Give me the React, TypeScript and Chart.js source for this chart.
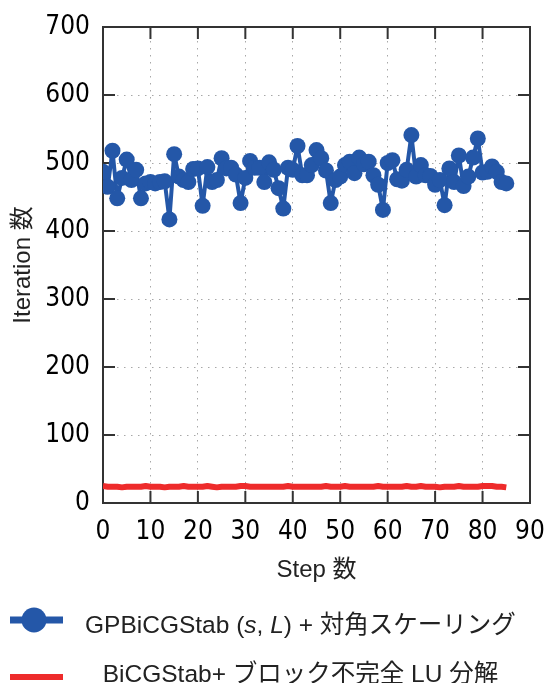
import React, { useEffect, useRef } from "react";
import { Chart, registerables } from "chart.js";

Chart.register(...registerables);

const steps = [
  0, 1, 2, 3, 4, 5, 6, 7, 8, 9, 10, 11, 12, 13, 14, 15, 16, 17, 18, 19, 20,
  21, 22, 23, 24, 25, 26, 27, 28, 29, 30, 31, 32, 33, 34, 35, 36, 37, 38, 39,
  40, 41, 42, 43, 44, 45, 46, 47, 48, 49, 50, 51, 52, 53, 54, 55, 56, 57, 58,
  59, 60, 61, 62, 63, 64, 65, 66, 67, 68, 69, 70, 71, 72, 73, 74, 75, 76, 77,
  78, 79, 80, 81, 82, 83, 84, 85,
];

const gpbicgstab = [
  487, 465, 518, 448, 478, 505, 475, 490, 448, 470, 472, 470, 472, 473, 417,
  513, 480, 475, 472, 491, 492, 437, 494, 472, 475, 507, 492, 493, 483, 441,
  478, 503, 493, 493, 472, 501, 490, 463, 433, 493, 490, 525, 482, 482, 497,
  519, 507, 489, 441, 475, 480, 497, 502, 485, 508, 498, 502, 482, 468, 431,
  500, 504, 476, 474, 490, 541, 480, 497, 482, 481, 468, 475, 438, 492, 472,
  511, 466, 480, 508, 536, 486, 487, 495, 487, 472, 470,
];

const bicgstabLU = [
  25, 24, 24, 24, 23, 24, 24, 24, 24, 25, 24, 24, 24, 23, 24, 24, 24, 25, 24,
  24, 24, 24, 25, 24, 23, 24, 24, 24, 24, 25, 25, 24, 24, 24, 24, 24, 24, 24,
  24, 25, 24, 24, 24, 24, 24, 24, 24, 25, 24, 24, 24, 25, 24, 24, 24, 24, 24,
  24, 25, 24, 24, 24, 24, 24, 25, 24, 24, 25, 24, 24, 24, 23, 24, 24, 24, 25,
  24, 24, 24, 24, 25, 25, 25, 24, 24, 23,
];

const xTitle = "Step 数";
const yTitle = "Iteration 数";
const legend1Parts: [string, boolean][] = [
  ["GPBiCGStab (", false],
  ["s", true],
  [", ", false],
  ["L", true],
  [") + 対角スケーリング", false],
];
const legend2Text = "BiCGStab+ ブロック不完全 LU 分解";

const BLUE = "#2457a8";
const RED = "#ee2b2b";
const FRAME = "#333333";
const TICK_FONT = "'DejaVu Sans Condensed', 'Liberation Sans', sans-serif";
const TEXT_FONT = "'Liberation Sans', 'Noto Sans CJK JP', sans-serif";

const framePlugin = {
  id: "frameTicks",
  beforeDatasetsDraw(chart: any) {
    const { ctx, chartArea } = chart;
    const { left, right, top, bottom } = chartArea;
    const xs = chart.scales.x;
    const ys = chart.scales.y;
    ctx.save();
    ctx.strokeStyle = FRAME;
    ctx.lineWidth = 2;
    const L = 12;
    ctx.beginPath();
    xs.ticks.forEach((t: any) => {
      const px = xs.getPixelForValue(t.value);
      ctx.moveTo(px, bottom);
      ctx.lineTo(px, bottom - L);
      ctx.moveTo(px, top);
      ctx.lineTo(px, top + L);
    });
    ys.ticks.forEach((t: any) => {
      const py = ys.getPixelForValue(t.value);
      ctx.moveTo(left, py);
      ctx.lineTo(left + L, py);
      ctx.moveTo(right, py);
      ctx.lineTo(right - L, py);
    });
    ctx.stroke();
    ctx.strokeRect(left, top, right - left, bottom - top);
    ctx.restore();
  },
};

const legendPlugin = {
  id: "customLegend",
  afterDraw(chart: any) {
    const { ctx } = chart;
    ctx.save();
    const size = 24.5;
    const normal = `${size}px ${TEXT_FONT}`;
    const italic = `italic ${size}px ${TEXT_FONT}`;
    ctx.strokeStyle = BLUE;
    ctx.lineWidth = 7;
    ctx.beginPath();
    ctx.moveTo(10, 620);
    ctx.lineTo(63, 620);
    ctx.stroke();
    ctx.fillStyle = BLUE;
    ctx.beginPath();
    ctx.arc(34, 620, 12.5, 0, Math.PI * 2);
    ctx.fill();
    ctx.fillStyle = "#222";
    ctx.textBaseline = "alphabetic";
    ctx.textAlign = "left";
    let x = 85;
    let total = 0;
    legend1Parts.forEach(([t, it]) => {
      ctx.font = it ? italic : normal;
      total += ctx.measureText(t).width;
    });
    legend1Parts.forEach(([t, it]) => {
      ctx.font = it ? italic : normal;
      ctx.fillText(t, x, 633);
      x += ctx.measureText(t).width;
    });
    const center = 85 + total / 2;
    ctx.strokeStyle = RED;
    ctx.lineWidth = 6;
    ctx.beginPath();
    ctx.moveTo(10, 677);
    ctx.lineTo(63, 677);
    ctx.stroke();
    ctx.font = normal;
    ctx.fillStyle = "#222";
    ctx.textAlign = "center";
    ctx.fillText(legend2Text, center, 682);
    ctx.restore();
  },
};

export default function App() {
  const ref = useRef<HTMLCanvasElement | null>(null);
  useEffect(() => {
    document.body.style.margin = "0";
    const canvas = ref.current;
    if (!canvas) return;
    const blueData = steps.map((s, i) => ({ x: s, y: gpbicgstab[i] }));
    const redData = steps.map((s, i) => ({ x: s, y: bicgstabLU[i] }));
    const chart = new Chart(canvas, {
      type: "line",
      data: {
        datasets: [
          {
            label: legend2Text,
            data: redData,
            borderColor: RED,
            backgroundColor: RED,
            borderWidth: 6,
            pointRadius: 0,
            tension: 0,
            borderJoinStyle: "round",
          },
          {
            label: "GPBiCGStab (s, L) + 対角スケーリング",
            data: blueData,
            borderColor: BLUE,
            backgroundColor: BLUE,
            borderWidth: 4,
            borderJoinStyle: "round",
            borderCapStyle: "round",
            pointRadius: 8,
            pointBorderWidth: 0,
            pointBackgroundColor: BLUE,
            tension: 0,
          },
        ],
      },
      options: {
        animation: false,
        responsive: false,
        maintainAspectRatio: false,
        devicePixelRatio: 1,
        layout: { padding: { top: 27, right: 21, left: 0, bottom: 95 } },
        plugins: {
          legend: { display: false },
          tooltip: { enabled: false },
        },
        scales: {
          x: {
            type: "linear",
            min: 0,
            max: 90,
            ticks: {
              stepSize: 10,
              color: "#000",
              padding: 14,
              maxRotation: 0,
              font: { family: TICK_FONT, size: 26, lineHeight: 1.2 },
            },
            grid: { color: "#a8a8a8", lineWidth: 1, drawTicks: false },
            border: { display: false, dash: [1.5, 5.5] },
            title: {
              display: true,
              text: xTitle,
              color: "#222",
              font: { family: TEXT_FONT, size: 24, lineHeight: 1.2 },
              padding: { top: 0, bottom: 3 },
            },
            afterFit: (s: any) => {
              s.height = 85;
              s.paddingLeft = 0;
              s.paddingRight = 0;
            },
          },
          y: {
            type: "linear",
            min: 0,
            max: 700,
            ticks: {
              stepSize: 100,
              color: "#000",
              padding: 13,
              font: { family: TICK_FONT, size: 26, lineHeight: 1.2 },
            },
            grid: { color: "#a8a8a8", lineWidth: 1, drawTicks: false },
            border: { display: false, dash: [1.5, 5.5] },
            title: {
              display: true,
              text: yTitle,
              color: "#222",
              font: { family: TEXT_FONT, size: 24, lineHeight: 1.2 },
              padding: { top: 9, bottom: 0 },
            },
            afterFit: (s: any) => {
              s.width = 103;
              s.paddingTop = 0;
              s.paddingBottom = 0;
            },
          },
        },
      },
      plugins: [framePlugin, legendPlugin],
    });
    return () => chart.destroy();
  }, []);
  return (
    <canvas
      ref={ref}
      width={551}
      height={683}
      style={{ display: "block", width: 551, height: 683 }}
    />
  );
}
